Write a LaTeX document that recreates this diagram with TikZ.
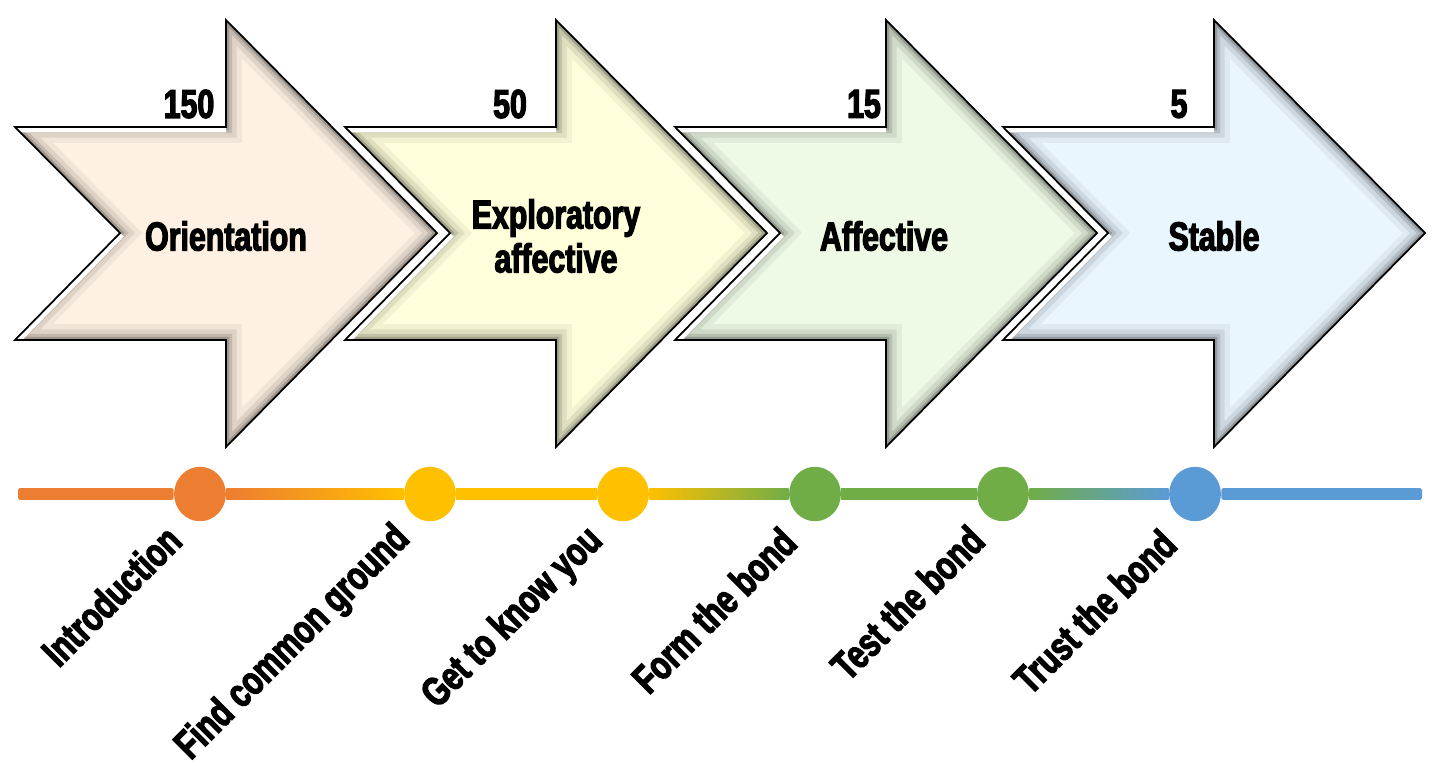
\documentclass[tikz,border=0pt]{standalone}
\usepackage{fontspec}
\usetikzlibrary{positioning,shapes.geometric}
\newfontfamily\heavyfont[FakeStretch=0.75,FakeBold=3]{Liberation Sans Bold}
\definecolor{PeachFill}{HTML}{FEF1E4}
\definecolor{LemonFill}{HTML}{FFFFDC}
\definecolor{MintFill}{HTML}{EEF9E6}
\definecolor{SkyFill}{HTML}{EAF6FE}
\definecolor{LineOrange}{HTML}{ED7D31}
\definecolor{LineYellow}{HTML}{FFC000}
\definecolor{LineGreen}{HTML}{70AD47}
\definecolor{LineBlue}{HTML}{5B9BD5}
% one chevron arrow, left corner at x = #1 (pixel units)
\newcommand{\chevron}[1]{(#1,127) -- ++(211,0) -- ++(0,-107) -- ++(211,213)
  -- ++(-211,214) -- ++(0,-107) -- ++(-211,0) -- ++(105,-107) -- cycle}
\newcommand{\bevelchevron}[2]{%
  \begin{scope}
    \clip \chevron{#1};
    \fill[#2] \chevron{#1};
    \draw[black,opacity=0.05,line width=18pt] \chevron{#1};
    \draw[black,opacity=0.08,line width=12pt] \chevron{#1};
    \draw[black,opacity=0.12,line width=7pt] \chevron{#1};
    \draw[black,opacity=0.18,line width=3.5pt] \chevron{#1};
    \draw[white,line width=6pt] (#1,127) -- ++(211,0) (#1,340) -- ++(105,-107);
  \end{scope}
  \draw[black,line width=1pt] \chevron{#1};}
\tikzset{
  stagetext/.style={font=\heavyfont\fontsize{23}{25}\selectfont,align=center,
    inner sep=0pt},
  counttext/.style={font=\heavyfont\fontsize{23}{25}\selectfont,inner sep=0pt},
  dot/.style={ellipse,minimum width=29.5pt,minimum height=31pt,inner sep=0pt},
  steplabel/.style={font=\heavyfont\fontsize{23}{25}\selectfont,rotate=45,
    anchor=east,inner sep=0pt},
}

\begin{document}
\begin{tikzpicture}[x=0.02cm,y=-0.02cm]
  \useasboundingbox (0,0) rectangle (1433,765);
  % arrows
  \bevelchevron{15}{PeachFill}
  \bevelchevron{345}{LemonFill}
  \bevelchevron{675}{MintFill}
  \bevelchevron{1003}{SkyFill}
  \node[stagetext] (orient) at (226,236) {Orientation};
  \node[stagetext] (explor) at (556,236) {Exploratory\\affective};
  \node[stagetext] (affect) at (884,236) {Affective};
  \node[stagetext] (stable) at (1214,236) {Stable};
  \node[counttext] (n150) at (189,104) {150};
  \node[counttext] (n50) at (510,104) {50};
  \node[counttext] (n15) at (864,104) {15};
  \node[counttext] (n5) at (1179,104) {5};
  % timeline
  \node[dot,fill=LineOrange] (c1) at (200,494) {};
  \node[dot,fill=LineYellow] (c2) at (430,494) {};
  \node[dot,fill=LineYellow] (c3) at (623,494) {};
  \node[dot,fill=LineGreen] (c4) at (815,494) {};
  \node[dot,fill=LineGreen] (c5) at (1003,494) {};
  \node[dot,fill=LineBlue] (c6) at (1195,494) {};
  \coordinate (lstart) at (18,494);
  \coordinate (lend) at (1422,494);
  \fill[LineOrange,rounded corners=1pt] ([yshift=3.4pt]lstart) rectangle ([yshift=-3.4pt]c1.west);
  \shade[left color=LineOrange,right color=LineYellow] ([yshift=3.4pt]c1.east) rectangle ([yshift=-3.4pt]c2.west);
  \fill[LineYellow] ([yshift=3.4pt]c2.east) rectangle ([yshift=-3.4pt]c3.west);
  \shade[left color=LineYellow,right color=LineGreen] ([yshift=3.4pt]c3.east) rectangle ([yshift=-3.4pt]c4.west);
  \fill[LineGreen] ([yshift=3.4pt]c4.east) rectangle ([yshift=-3.4pt]c5.west);
  \shade[left color=LineGreen,right color=LineBlue] ([yshift=3.4pt]c5.east) rectangle ([yshift=-3.4pt]c6.west);
  \fill[LineBlue,rounded corners=1pt] ([yshift=3.4pt]c6.east) rectangle ([yshift=-3.4pt]lend);
  % step labels
  \node[steplabel] (l1) at (174,533) {Introduction};
  \node[steplabel] (l2) at (404,533) {Find common ground};
  \node[steplabel] (l3) at (597,535) {Get to know you};
  \node[steplabel] (l4) at (789,535) {Form the bond};
  \node[steplabel] (l5) at (977,533) {Test the bond};
  \node[steplabel] (l6) at (1169,537) {Trust the bond};
\end{tikzpicture}
\end{document}
